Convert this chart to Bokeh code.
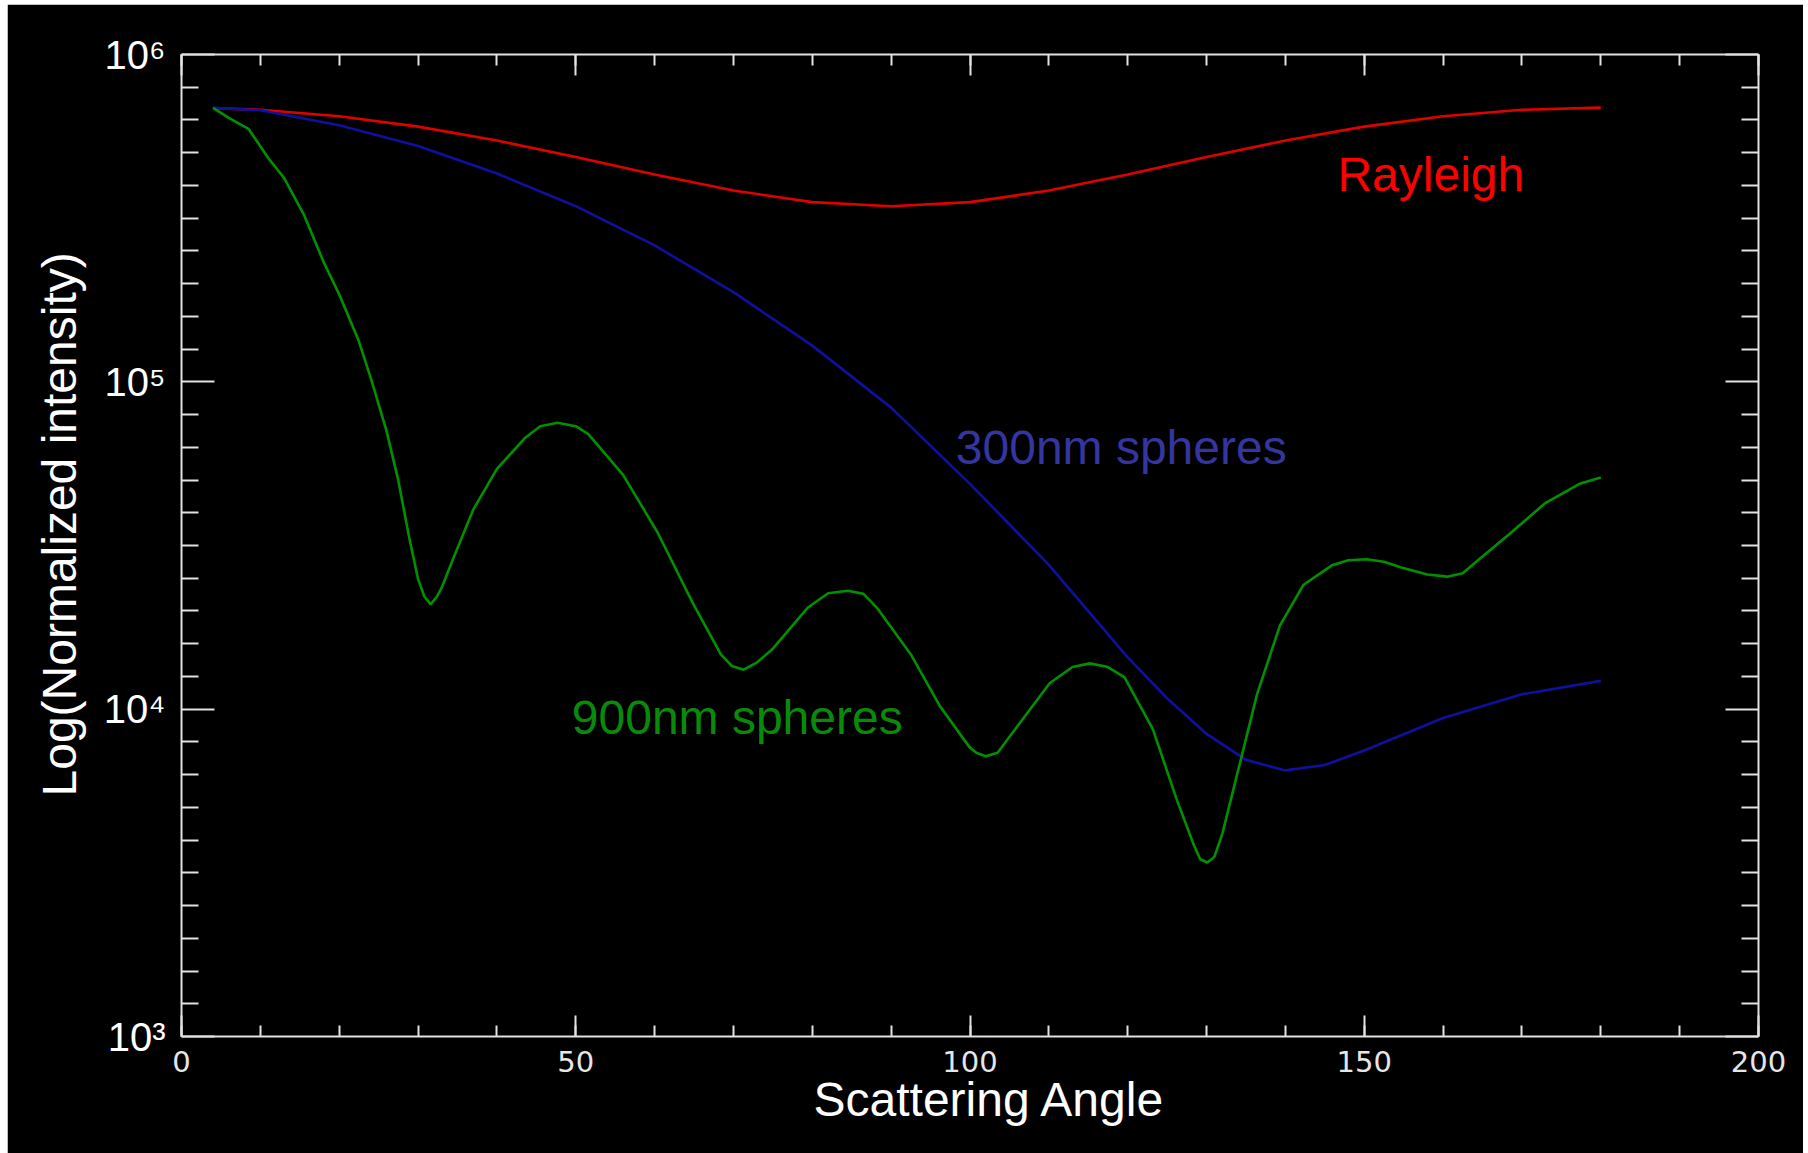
import numpy as np
from bokeh.plotting import figure
from bokeh.models import FixedTicker, LinearAxis, LogAxis, Label, Spacer, Range1d, Title
from bokeh.layouts import row, column
from bokeh.embed import file_html
from bokeh.resources import INLINE

# ---------------- data ----------------
rayleigh_angle = [4, 10, 20, 30, 40, 50, 60, 70, 80, 90, 100, 110, 120, 130, 140, 150, 160, 170, 180]
rayleigh_value = [6.86e5, 6.78e5, 6.48e5, 6.02e5, 5.46e5, 4.86e5, 4.30e5, 3.84e5, 3.54e5, 3.44e5,
                  3.54e5, 3.84e5, 4.30e5, 4.86e5, 5.46e5, 6.02e5, 6.48e5, 6.78e5, 6.88e5]

s300_angle = [4, 10, 20, 30, 40, 50, 60, 70, 80, 90, 100, 110, 120, 125, 130, 135, 140, 145, 150, 160, 170, 180]
s300_value = [6.87e5, 6.76e5, 6.08e5, 5.25e5, 4.33e5, 3.44e5, 2.61e5, 1.88e5, 1.29e5, 8.34e4,
              4.88e4, 2.76e4, 1.44e4, 1.08e4, 8.4e3, 7.0e3, 6.5e3, 6.75e3, 7.48e3, 9.4e3, 1.11e4, 1.22e4]

s900_angle = [4, 6, 8.5, 11, 13, 15.5, 18, 20, 22.4, 24.1, 26, 27.5, 28.9, 30, 30.8, 31.6, 32.4, 33,
              34.5, 37, 40, 43.6, 45.5, 47.7, 50, 51.6, 56, 60.4, 64.8, 68.4, 69.8, 71.3, 73, 75,
              79.4, 82, 84.5, 86.5, 88.2, 92.5, 96.2, 99.9, 100.8, 102, 103.5, 105.7, 110.1, 113,
              115.2, 117.5, 119.6, 123.2, 126.2, 128.4, 129.2, 130.1, 131, 132, 134.2, 136.4, 139.3,
              142.3, 145.9, 148, 150.3, 152.5, 154.7, 158, 160.5, 162.5, 164.2, 168.6, 172.9, 177.3, 180]
s900_value = [6.87e5, 6.4e5, 5.93e5, 4.83e5, 4.2e5, 3.25e5, 2.33e5, 1.85e5, 1.35e5, 1.01e5, 7.08e4,
              4.99e4, 3.32e4, 2.5e4, 2.21e4, 2.09e4, 2.21e4, 2.35e4,
              2.9e4, 4.07e4, 5.42e4, 6.75e4, 7.32e4, 7.5e4, 7.32e4, 6.92e4, 5.2e4, 3.46e4, 2.12e4,
              1.47e4, 1.355e4, 1.32e4, 1.39e4, 1.53e4,
              2.04e4, 2.26e4, 2.3e4, 2.25e4, 2.04e4, 1.47e4, 1.02e4, 7.67e3, 7.36e3, 7.18e3, 7.36e3,
              8.67e3, 1.2e4, 1.345e4,
              1.38e4, 1.345e4, 1.25e4, 8.67e3, 5.31e3, 3.84e3, 3.48e3, 3.4e3, 3.54e3, 4.16e3, 6.79e3,
              1.11e4, 1.8e4,
              2.4e4, 2.75e4, 2.85e4, 2.87e4, 2.82e4, 2.71e4, 2.58e4, 2.54e4, 2.6e4, 2.82e4, 3.46e4,
              4.25e4, 4.88e4, 5.1e4]

x_ticks = [0, 50, 100, 150, 200]
x_minor_ticks = list(range(0, 201, 10))
y_ticks = [1e3, 1e4, 1e5, 1e6]
y_tick_labels = ["10³", "10⁴", "10⁵", "10⁶"]

series_names = ["Rayleigh", "300nm spheres", "900nm spheres"]
x_title = "Scattering Angle"
y_title = "Log(Normalized intensity)"

# ---------------- figure ----------------
AXIS_COLOR = "#e2e2e2"
p = figure(width=1796, height=1149, y_axis_type="log",
           x_range=Range1d(0, 200), y_range=Range1d(1e3, 1e6),
           output_backend="svg", toolbar_location=None,
           min_border_left=174, min_border_right=45, min_border_top=50, min_border_bottom=117,
           background_fill_color="black", border_fill_color="black")
p.grid.visible = False
p.outline_line_color = None

y_minor = [10 ** (d + j / 10) for d in (3, 4, 5) for j in range(1, 10)]


def style_axis(ax, maj, mnr, hide_labels=False):
    ax.axis_line_color = AXIS_COLOR
    ax.axis_line_width = 2
    ax.major_tick_line_color = AXIS_COLOR
    ax.minor_tick_line_color = AXIS_COLOR
    ax.major_tick_line_width = 2
    ax.minor_tick_line_width = 2
    ax.major_tick_in = maj
    ax.major_tick_out = 0
    ax.minor_tick_in = mnr
    ax.minor_tick_out = 0
    if hide_labels:
        ax.major_label_overrides = {t: " " for t in ax.ticker.ticks}
        ax.major_label_text_font_size = "8px"
        ax.major_label_text_color = None
        ax.major_label_standoff = 0


xa = p.xaxis[0]
xa.ticker = FixedTicker(ticks=x_ticks, minor_ticks=x_minor_ticks)
style_axis(xa, 21, 11)
xa.major_label_text_font = "DejaVu Sans"
xa.major_label_text_font_size = "29px"
xa.major_label_text_color = "#e6e6e6"
xa.major_label_standoff = 14

ya = p.yaxis[0]
ya.ticker = FixedTicker(ticks=y_ticks, minor_ticks=y_minor)
style_axis(ya, 33, 17)
ya.major_label_overrides = dict(zip(y_ticks, y_tick_labels))
ya.major_label_text_font = "Liberation Sans"
ya.major_label_text_font_size = "40px"
ya.major_label_text_color = "white"
ya.major_label_standoff = 16

top = LinearAxis(ticker=FixedTicker(ticks=x_ticks, minor_ticks=x_minor_ticks))
style_axis(top, 21, 11, hide_labels=True)
p.add_layout(top, "above")

right = LogAxis(ticker=FixedTicker(ticks=y_ticks, minor_ticks=y_minor))
style_axis(right, 33, 17, hide_labels=True)
p.add_layout(right, "right")

# ---------------- axis titles ----------------
xt = Title(text=x_title, align="left", offset=632, standoff=-8, text_color="white",
           text_font="Liberation Sans", text_font_size="48px", text_font_style="normal")
p.add_layout(xt, "below")
yt = Title(text=y_title, align="left", offset=240, standoff=29, text_color="white",
           text_font="Liberation Sans", text_font_size="48px", text_font_style="normal")
p.add_layout(yt, "left")

# ---------------- curves ----------------
p.line(rayleigh_angle, rayleigh_value, line_color="#e00000", line_width=2.6)
p.line(s300_angle, s300_value, line_color="#1010a0", line_width=2.6)
p.line(s900_angle, s900_value, line_color="#009000", line_width=2.6)

# ---------------- curve labels ----------------
label_specs = [(146.6, 4.31e5, "#ff0000"), (98.2, 6.28e4, "#3535a0"), (49.5, 9.4e3, "#0a8a0a")]
for name, (lx, ly, col) in zip(series_names, label_specs):
    p.add_layout(Label(x=lx, y=ly, text=name, text_color=col, text_font="Liberation Sans",
                       text_font_size="48px", text_baseline="middle", text_align="left"))

layout = row(Spacer(width=7), column(Spacer(height=4), p))
open("out.html", "w").write(file_html(layout, INLINE))
